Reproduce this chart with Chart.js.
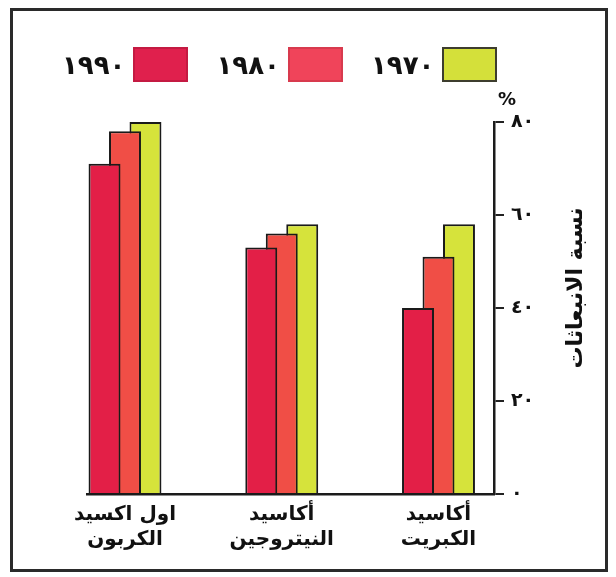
<!DOCTYPE html>
<html>
<head>
<meta charset="utf-8">
<script src="https://cdn.jsdelivr.net/npm/chart.js@4.4.1/dist/chart.umd.min.js"></script>
<style>
  body { margin: 0; background: #fff; }
  #frame {
    position: absolute; left: 10px; top: 8px;
    width: 592px; height: 558px;
    border: 3px solid #2a2a2a;
  }
  canvas { display: block; }
  #legend {
    position: absolute; left: 49px; top: 36px;
    display: flex; align-items: center; gap: 28px;
    font: bold 26px 'DejaVu Sans', sans-serif; color: #111;
  }
  #legend .item { display: flex; align-items: center; gap: 8px; }
  #legend .box { width: 51px; height: 31px; border: 2px solid; }
</style>
</head>
<body>
<div id="frame">
  <canvas id="chart" width="592" height="558"></canvas>
  <div id="legend"></div>
</div>
<script>
// categories, left to right
const categories = [
  ["اول اكسيد", "الكربون"],
  ["أكاسيد", "النيتروجين"],
  ["أكاسيد", "الكبريت"]
];
const years = [1990, 1980, 1970];
const values1990 = [71, 53, 40];
const values1980 = [78, 56, 51];
const values1970 = [80, 58, 58];
const yTicks = [0, 20, 40, 60, 80];
const yTitle = "نسبة الانبعاثات";
const yUnit = "%";

const colors = ["#e31f47", "#f04e46", "#d6e33b"];
const legendColors = ["#e0204d", "#f0445a", "#d4e03a"];
const legendBorders = ["#c41a42", "#d83a4e", "#3d3d2e"];
const ARABIC_FONT = "'DejaVu Sans', sans-serif";

// 1990 -> ١٩٩٠
function toArabicDigits(n) {
  return String(n).replace(/\d/g, d => "٠١٢٣٤٥٦٧٨٩"[d]);
}

// y title (reads top to bottom) and the % sign above the axis
const axisExtras = {
  id: "axisExtras",
  afterDraw(chart) {
    const y = chart.scales.y;
    const ctx = chart.ctx;
    ctx.save();
    ctx.fillStyle = "#111";
    ctx.font = "bold 22px " + ARABIC_FONT;
    ctx.textAlign = "center";
    ctx.textBaseline = "middle";
    ctx.translate(y.left + 82, (y.top + y.bottom) / 2 - 20);
    ctx.rotate(-Math.PI / 2);
    ctx.fillText(yTitle, 0, 0);
    ctx.restore();

    ctx.save();
    ctx.fillStyle = "#111";
    ctx.font = "bold 18px " + ARABIC_FONT;
    ctx.textAlign = "center";
    ctx.textBaseline = "middle";
    ctx.fillText(yUnit, y.left + 13, y.top - 22);
    ctx.restore();
  }
};

const series = [values1990, values1980, values1970];

const chart = new Chart(document.getElementById("chart"), {
  type: "bar",
  data: {
    labels: categories.map((c, i) => i),
    datasets: series.map((vals, i) => ({
      label: toArabicDigits(years[i]),
      data: vals,
      backgroundColor: colors[i],
      borderColor: "#1a1a1a",
      borderWidth: 2,
      categoryPercentage: 0.392,
      barPercentage: 1.56
    }))
  },
  options: {
    responsive: false,
    animation: false,
    layout: { padding: { top: 111, left: 74, right: 61, bottom: 15 } },
    plugins: {
      tooltip: { enabled: false },
      legend: { display: false }
    },
    scales: {
      x: {
        type: "linear",
        offset: false,
        min: -0.2424,
        max: 2.354,
        afterBuildTicks: scale => {
          scale.ticks = categories.map((c, i) => ({ value: i }));
        },
        afterFit: scale => { scale.height = 60; },
        grid: { display: false, offset: false },
        border: { display: true, color: "#1b1b1b", width: 2.5 },
        ticks: {
          maxRotation: 0,
          autoSkip: false,
          padding: 0,
          color: "#111",
          font: { family: ARABIC_FONT, size: 20, weight: "bold", lineHeight: 1.25 },
          callback: v => categories[v]
        }
      },
      y: {
        position: "right",
        min: 0,
        max: 80,
        afterBuildTicks: scale => {
          scale.ticks = yTicks.map(v => ({ value: v }));
        },
        afterFit: scale => { scale.width = 50; },
        grid: {
          drawOnChartArea: false,
          drawTicks: true,
          tickLength: 10,
          color: "#222",
          lineWidth: 2
        },
        border: { display: true, color: "#1b1b1b", width: 2.5 },
        ticks: {
          padding: 7,
          color: "#111",
          font: { family: ARABIC_FONT, size: 19, weight: "bold" },
          callback: v => toArabicDigits(v)
        }
      }
    }
  },
  plugins: [axisExtras]
});

// HTML legend: year text followed by its colour box
const legendEl = document.getElementById("legend");
chart.data.datasets.forEach((ds, i) => {
  const item = document.createElement("div");
  item.className = "item";
  item.innerHTML = `<span>${ds.label}</span>
    <span class="box" style="background:${legendColors[i]};border-color:${legendBorders[i]}"></span>`;
  legendEl.appendChild(item);
});
</script>
</body>
</html>
